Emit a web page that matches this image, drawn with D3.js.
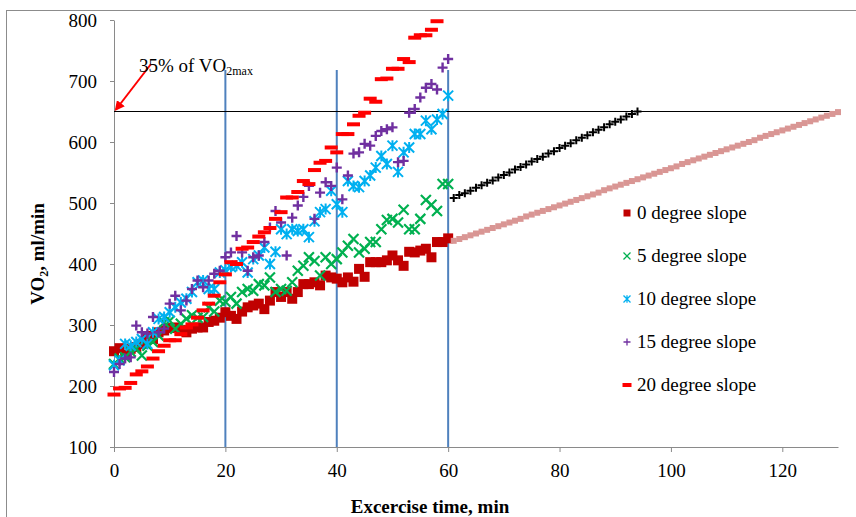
<!DOCTYPE html>
<html>
<head>
<meta charset="utf-8">
<script src="https://cdn.jsdelivr.net/npm/d3@7"></script>
<style>
  body { margin: 0; background: #fff; }
  text { font-family: "Liberation Serif", "Times New Roman", serif; }
</style>
</head>
<body>
<div id="chart"></div>
<script>
////////////////////////////////////////////////////////////////
// Data (one value per minute)

var slope0 = [257, 262, 251, 261, 264, 269, 282, 277, 288, 291, 295, 296, 292, 288, 294, 296, 296, 305, 307, 312,
    321, 315, 310, 322, 329, 332, 335, 326, 340, 354, 346, 354, 343, 354, 367, 367, 370, 365, 381, 378,
    376, 370, 378, 371, 392, 379, 403, 403, 403, 406, 414, 406, 397, 420, 419, 422, 425, 411, 436, 436, 442];

var slope5 = [236, 245, 247, 256, 261, 250, 266, 272, 283, 304, 307, 294, 302, 310, 316, 312, 313, 329, 322, 340,
    338, 346, 335, 354, 359, 356, 367, 365, 378, 354, 359, 356, 370, 389, 397, 411, 405, 381, 411, 400,
    408, 419, 430, 441, 419, 425, 436, 436, 457, 472, 474, 468, 489, 457, 457, 474, 505, 497, 487, 531, 531];

var slope10 = [234, 242, 269, 266, 272, 277, 269, 288, 310, 313, 321, 329, 337, 343, 354, 370, 373, 359, 359, 386,
    390, 395, 397, 403, 386, 408, 414, 427, 400, 420, 457, 449, 457, 454, 457, 444, 470, 485, 490, 520,
    498, 485, 536, 528, 526, 536, 545, 558, 577, 564, 594, 551, 583, 591, 613, 613, 635, 621, 637, 646, 676];

var slope15 = [223, 236, 245, 247, 299, 288, 286, 313, 288, 294, 335, 348, 324, 340, 359, 373, 362, 373, 384, 389,
    411, 419, 446, 419, 389, 411, 414, 436, 460, 487, 468, 414, 476, 496, 510, 528, 474, 517, 534, 528,
    558, 506, 545, 581, 583, 597, 594, 610, 618, 621, 624, 567, 569, 648, 654, 673, 689, 695, 686, 722, 736];

var slope20 = [186, 196, 197, 205, 219, 224, 232, 245, 257, 266, 275, 275, 285, 296, 301, 312, 324, 335, 348, 370,
    383, 403, 400, 425, 427, 436, 445, 452, 459, 474, 485, 509, 509, 518, 536, 531, 554, 566, 569, 591,
    583, 613, 613, 629, 643, 648, 671, 666, 703, 704, 720, 720, 736, 731, 771, 775, 775, 784, 798];

// extrapolated lines after 60 min
var extStartBlack = 61;
var extBlack = [508, 513, 516, 520, 525, 529, 533, 537, 542, 546, 550, 555, 559, 563, 568, 572, 576, 581, 585, 590,
    594, 598, 603, 607, 611, 616, 620, 624, 629, 633, 637, 642, 646, 650];

var extStartPink = 61;
var extPink = [438, 441, 444, 447, 450, 453, 456, 459, 462, 465, 468, 471, 474, 478, 481, 484, 487, 490, 493, 496,
    499, 502, 505, 508, 511, 514, 517, 521, 524, 527, 530, 533, 536, 539, 542, 545, 548, 551, 554, 557,
    560, 564, 567, 570, 573, 576, 579, 582, 585, 588, 591, 594, 597, 600, 603, 607, 610, 613, 616, 619,
    622, 625, 628, 631, 634, 637, 640, 643, 646, 649];

var xTicks = [0, 20, 40, 60, 80, 100, 120];
var yTicks = [100, 200, 300, 400, 500, 600, 700, 800];
var stageLines = [20, 40, 60];
var vo2Limit = 650;

var legendNames = ["0 degree slope", "5 degree slope", "10 degree slope", "15 degree slope", "20 degree slope"];

////////////////////////////////////////////////////////////////
// Basic parameters

var svgWidth = 856;
var svgHeight = 517;

var svg = d3.select("#chart")
    .append("svg")
    .attr("width", svgWidth)
    .attr("height", svgHeight);

// outer frame
svg.append("rect")
    .attr("x", 6.5).attr("y", 10.5)
    .attr("width", 880).attr("height", 540)
    .attr("fill", "none")
    .attr("stroke", "#8c8c8c");

var xScale = d3.scaleLinear().domain([0, 130]).range([114, 838]);
var yScale = d3.scaleLinear().domain([100, 800]).range([447, 20]);

////////////////////////////////////////////////////////////////
// Marker shapes

function markerPath(type, s) {
    var h = s / 2;
    if (type === "square") return `M${-h},${-h}h${s}v${s}h${-s}Z`;
    if (type === "x") return `M${-h},${-h}L${h},${h}M${-h},${h}L${h},${-h}`;
    if (type === "star") return `M${-h},${-h}L${h},${h}M${-h},${h}L${h},${-h}M0,${-h * 1.1}V${h * 1.1}`;
    if (type === "plus") return `M${-h},0H${h}M0,${-h}V${h}`;
    if (type === "dash") return `M${-h},-2h${s}v4h${-s}Z`;
}

var seriesList = [
    { values: slope0, start: 0, type: "square", size: 10, color: "#C00000", sw: 0 },
    { values: slope5, start: 0, type: "x", size: 10, color: "#00B050", sw: 2.2 },
    { values: slope10, start: 0, type: "star", size: 10, color: "#00B0F0", sw: 2 },
    { values: slope15, start: 0, type: "plus", size: 10, color: "#7030A0", sw: 2.4 },
    { values: slope20, start: 0, type: "dash", size: 13, color: "#FF0000", sw: 0 },
    { values: extPink, start: extStartPink, type: "square", size: 6, color: "#D99694", sw: 0 },
    { values: extBlack, start: extStartBlack, type: "plus", size: 8, color: "#000000", sw: 2 }
];

function isFilled(type) { return type === "square" || type === "dash"; }

////////////////////////////////////////////////////////////////
// Axes

var xAxis = svg.append("g")
    .attr("transform", `translate(0, ${yScale(100)})`)
    .call(d3.axisBottom(xScale).tickValues(xTicks).tickSize(5).tickSizeOuter(0).tickPadding(12));

var yAxis = svg.append("g")
    .attr("transform", `translate(${xScale(0)}, 0)`)
    .call(d3.axisLeft(yScale).tickValues(yTicks).tickSize(4).tickSizeOuter(0).tickPadding(13));

[xAxis, yAxis].forEach(function (ax) {
    ax.select(".domain").attr("stroke", "#8a8a8a");
    ax.selectAll(".tick line").attr("stroke", "#8a8a8a");
    ax.selectAll(".tick text")
        .attr("fill", "#000")
        .style("font-family", "'Liberation Serif', serif")
        .style("font-size", "19px");
});

////////////////////////////////////////////////////////////////
// Reference lines

svg.selectAll(".stage")
    .data(stageLines)
    .enter()
    .append("line")
    .attr("x1", d => xScale(d)).attr("x2", d => xScale(d))
    .attr("y1", yScale(100)).attr("y2", yScale(718))
    .attr("stroke", "#4F81BD")
    .attr("stroke-width", 2);

svg.append("line")
    .attr("x1", xScale(0)).attr("x2", xScale(130))
    .attr("y1", yScale(vo2Limit)).attr("y2", yScale(vo2Limit))
    .attr("stroke", "#000")
    .attr("stroke-width", 1.2);

////////////////////////////////////////////////////////////////
// Points

seriesList.forEach(function (s) {
    var pts = s.values.map((v, i) => ({ t: s.start + i, v: v }));
    svg.append("g")
        .selectAll("path")
        .data(pts)
        .enter()
        .append("path")
        .attr("transform", d => `translate(${xScale(d.t)}, ${yScale(d.v)})`)
        .attr("d", markerPath(s.type, s.size))
        .attr("fill", isFilled(s.type) ? s.color : "none")
        .attr("stroke", isFilled(s.type) ? "none" : s.color)
        .attr("stroke-width", s.sw);
});

////////////////////////////////////////////////////////////////
// Annotation

svg.append("defs").append("marker")
    .attr("id", "arrow")
    .attr("viewBox", "0 0 10 10")
    .attr("refX", 8).attr("refY", 5)
    .attr("markerWidth", 5).attr("markerHeight", 5)
    .attr("orient", "auto")
    .append("path")
    .attr("d", "M0,0L10,5L0,10Z")
    .attr("fill", "#FF0000");

svg.append("line")
    .attr("x1", 151).attr("y1", 64)
    .attr("x2", xScale(0) + 2).attr("y2", yScale(vo2Limit) - 2)
    .attr("stroke", "#FF0000")
    .attr("stroke-width", 2)
    .attr("marker-end", "url(#arrow)");

var note = svg.append("text")
    .attr("x", 139).attr("y", 72)
    .style("font-size", "19px");
note.append("tspan").text("35% of VO");
note.append("tspan").attr("dy", 3).style("font-size", "12px").text("2max");

////////////////////////////////////////////////////////////////
// Axis titles

svg.append("text")
    .attr("x", 430).attr("y", 513)
    .attr("text-anchor", "middle")
    .style("font-size", "19px")
    .style("font-weight", "bold")
    .text("Excercise time, min");

var yTitle = svg.append("text")
    .attr("transform", "translate(44, 254) rotate(-90)")
    .attr("text-anchor", "middle")
    .style("font-size", "19px")
    .style("font-weight", "bold");
yTitle.append("tspan").text("VO");
yTitle.append("tspan").attr("dy", 4).style("font-size", "12px").text("2");
yTitle.append("tspan").attr("dy", -4).text(", ml/min");

////////////////////////////////////////////////////////////////
// Legend

var legend = svg.append("g");
legendNames.forEach(function (name, i) {
    var s = seriesList[i];
    var cy = 213 + i * 43;
    legend.append("path")
        .attr("transform", `translate(627, ${cy})`)
        .attr("d", markerPath(s.type, s.type === "dash" ? 9 : 7))
        .attr("fill", isFilled(s.type) ? s.color : "none")
        .attr("stroke", isFilled(s.type) ? "none" : s.color)
        .attr("stroke-width", 1.3);
    legend.append("text")
        .attr("x", 637).attr("y", cy + 6)
        .style("font-size", "19px")
        .text(name);
});
</script>
</body>
</html>
